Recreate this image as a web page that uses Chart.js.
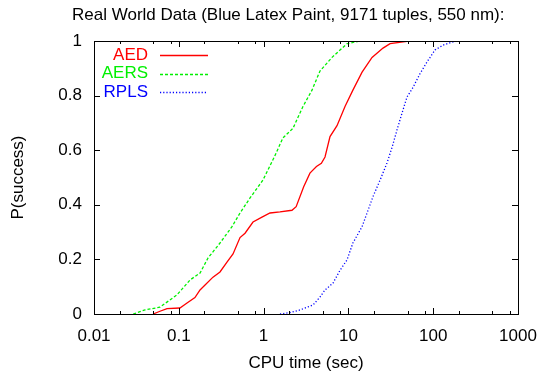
<!DOCTYPE html>
<html lang="en">
<head>
<meta charset="UTF-8">
<title>Real World Data</title>
<script src="https://cdn.jsdelivr.net/npm/chart.js"></script>
<style>
  html, body { margin: 0; padding: 0; background: #fff; }
  #wrap { width: 540px; height: 373px; }
</style>
</head>
<body>
<div id="wrap"><canvas id="cdf" width="540" height="373"></canvas></div>
<script>
// values
var titleText = 'Real World Data (Blue Latex Paint, 9171 tuples, 550 nm):';
var seriesNames = ['AED', 'AERS', 'RPLS'];

var aedX = [0.0497, 0.06, 0.0726, 0.103, 0.125, 0.155, 0.178, 0.204, 0.253, 0.306, 0.37, 0.436, 0.527, 0.604, 0.75, 0.957, 1.19, 1.56, 2.16, 2.42, 2.97, 3.52, 4.2, 4.8, 5.3, 6.07, 7.34, 9.12, 11.3, 14.5, 19.0, 25.6, 31.0, 49.1, 64.4];
var aedY = [0, 0.01, 0.02, 0.022, 0.04, 0.06, 0.088, 0.106, 0.135, 0.154, 0.19, 0.22, 0.28, 0.296, 0.337, 0.355, 0.37, 0.374, 0.38, 0.393, 0.466, 0.516, 0.54, 0.552, 0.575, 0.65, 0.69, 0.76, 0.82, 0.886, 0.94, 0.974, 0.99, 0.999, 1.0];

var aersX = [0.029, 0.04, 0.06, 0.095, 0.136, 0.178, 0.221, 0.306, 0.424, 0.527, 0.692, 0.98, 1.36, 1.69, 2.22, 2.91, 3.72, 4.62, 6.41, 9.62, 13.7];
var aersY = [0, 0.015, 0.025, 0.07, 0.125, 0.15, 0.205, 0.26, 0.32, 0.37, 0.425, 0.49, 0.58, 0.645, 0.68, 0.76, 0.82, 0.89, 0.94, 0.99, 1.0];

var rplsX = [1.56, 2.05, 2.69, 3.83, 4.62, 5.30, 6.58, 7.96, 9.62, 11.3, 14.5, 16.6, 19.5, 23.6, 28.5, 32.7, 37.4, 42.9, 49.1, 57.8, 69.8, 84.5, 105, 131, 167, 191];
var rplsY = [0, 0.005, 0.015, 0.033, 0.062, 0.088, 0.113, 0.16, 0.198, 0.26, 0.32, 0.37, 0.43, 0.49, 0.553, 0.61, 0.674, 0.736, 0.795, 0.83, 0.88, 0.923, 0.967, 0.985, 0.996, 1];

var xTickVals = [0.01, 0.1, 1, 10, 100, 1000];
var xTickLabels = ['0.01', '0.1', '1', '10', '100', '1000'];
var xMinorSteps = [2, 5, 8];
var yTickVals = [0, 0.2, 0.4, 0.6, 0.8, 1];
var yTickLabels = ['0', '0.2', '0.4', '0.6', '0.8', '1'];

var FONT = "'Liberation Sans', Arial, Helvetica, sans-serif";
var colors = ['#ff0000', '#00f000', '#0000ff'];
var dashes = [[], [3, 2], [1.2, 2]];

function pts(xs, ys) {
  var out = [];
  for (var i = 0; i < xs.length; i++) out.push({ x: xs[i], y: ys[i] });
  return out;
}

// gnuplot-ish frame, inward ticks, title and legend
var frame = {
  id: 'frame',
  afterDatasetsDraw: function (chart) {
    var ctx = chart.ctx, a = chart.chartArea;
    var xs = chart.scales.x, ys = chart.scales.y;
    ctx.save();
    ctx.setLineDash([]);
    ctx.strokeStyle = '#000';
    ctx.lineWidth = 1;
    ctx.beginPath();
    // x ticks, bottom and top
    xTickVals.forEach(function (v, i) {
      var px = Math.round(xs.getPixelForValue(v)) + 0.5;
      ctx.moveTo(px, a.bottom); ctx.lineTo(px, a.bottom - 6);
      ctx.moveTo(px, a.top); ctx.lineTo(px, a.top + 6);
      if (i < xTickVals.length - 1) {
        xMinorSteps.forEach(function (m) {
          var q = Math.round(xs.getPixelForValue(v * m)) + 0.5;
          ctx.moveTo(q, a.bottom); ctx.lineTo(q, a.bottom - 3);
          ctx.moveTo(q, a.top); ctx.lineTo(q, a.top + 3);
        });
      }
    });
    yTickVals.forEach(function (v) {
      var py = Math.round(ys.getPixelForValue(v)) + 0.5;
      ctx.moveTo(a.left, py); ctx.lineTo(a.left + 6, py);
      ctx.moveTo(a.right, py); ctx.lineTo(a.right - 6, py);
    });
    ctx.stroke();
    ctx.strokeRect(Math.round(a.left) + 0.5, Math.round(a.top) + 0.5,
      Math.round(a.right - a.left), Math.round(a.bottom - a.top));

    // title
    ctx.fillStyle = '#000';
    ctx.font = '17px ' + FONT;
    ctx.textAlign = 'left';
    ctx.textBaseline = 'alphabetic';
    ctx.fillText(titleText, 72, 20);

    // legend
    ctx.textAlign = 'right';
    ctx.textBaseline = 'middle';
    for (var i = 0; i < seriesNames.length; i++) {
      var y = 55 + i * 18.5;
      ctx.fillStyle = colors[i];
      ctx.fillText(seriesNames[i], 148, y);
      ctx.beginPath();
      ctx.strokeStyle = colors[i];
      ctx.lineWidth = 1.3;
      ctx.setLineDash(dashes[i]);
      ctx.moveTo(160, Math.round(y) + 0.5);
      ctx.lineTo(208, Math.round(y) + 0.5);
      ctx.stroke();
    }
    ctx.setLineDash([]);
    ctx.restore();
  }
};

var ctx = document.getElementById('cdf').getContext('2d');
var chart = new Chart(ctx, {
  type: 'line',
  data: {
    datasets: [
      { label: 'AED', data: pts(aedX, aedY) },
      { label: 'AERS', data: pts(aersX, aersY) },
      { label: 'RPLS', data: pts(rplsX, rplsY) }
    ].map(function (d, i) {
      d.borderColor = colors[i];
      d.borderWidth = 1.3;
      d.borderDash = dashes[i];
      d.pointRadius = 0;
      d.tension = 0;
      d.fill = false;
      return d;
    })
  },
  options: {
    responsive: false,
    animation: false,
    devicePixelRatio: 1,
    layout: { autoPadding: false, padding: { top: 41, right: 22, left: 0, bottom: 0 } },
    plugins: {
      legend: { display: false },
      title: { display: false },
      tooltip: { enabled: false }
    },
    scales: {
      x: {
        type: 'logarithmic',
        min: 0.01,
        max: 1000,
        grid: { display: false, drawTicks: false },
        border: { display: false },
        afterBuildTicks: function (s) {
          s.ticks = xTickVals.map(function (v) { return { value: v }; });
        },
        afterFit: function (s) {
          s.height = 59;
          s.paddingLeft = 0;
          s.paddingRight = 0;
        },
        ticks: {
          autoSkip: false,
          maxRotation: 0,
          padding: 12,
          color: '#000',
          font: { family: FONT, size: 17 },
          callback: function (v) {
            var i = xTickVals.indexOf(v);
            return i >= 0 ? xTickLabels[i] : '';
          }
        },
        title: {
          display: true,
          text: 'CPU time (sec)',
          color: '#000',
          font: { family: FONT, size: 17 },
          padding: { top: 0, bottom: -1 }
        }
      },
      y: {
        min: 0,
        max: 1,
        grid: { display: false, drawTicks: false },
        border: { display: false },
        afterBuildTicks: function (s) {
          s.ticks = yTickVals.map(function (v) { return { value: v }; });
        },
        afterFit: function (s) {
          s.width = 94;
          s.paddingTop = 0;
          s.paddingBottom = 0;
        },
        ticks: {
          autoSkip: false,
          padding: 12,
          color: '#000',
          font: { family: FONT, size: 17 },
          callback: function (v) {
            var i = yTickVals.indexOf(v);
            return i >= 0 ? yTickLabels[i] : '';
          }
        },
        title: {
          display: true,
          text: 'P(success)',
          color: '#000',
          font: { family: FONT, size: 17 },
          padding: { top: 8, bottom: 0 }
        }
      }
    }
  },
  plugins: [frame]
});
</script>
</body>
</html>
